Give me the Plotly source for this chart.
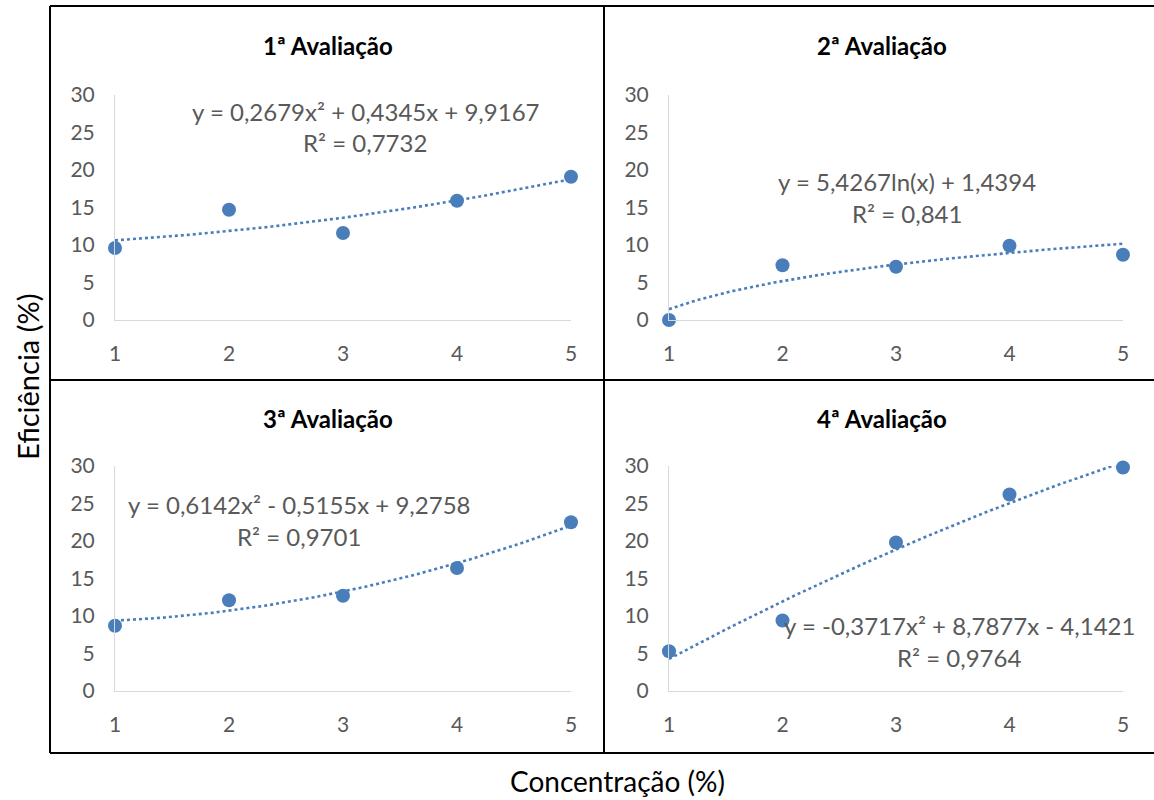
import numpy as np
import plotly.graph_objects as go

W, H = 1154, 800

concentracao = [1, 2, 3, 4, 5]
aval1 = [9.6, 14.7, 11.6, 15.9, 19.1]
aval2 = [0.0, 7.3, 7.1, 9.9, 8.7]
aval3 = [8.7, 12.1, 12.7, 16.4, 22.5]
aval4 = [5.3, 9.4, 19.8, 26.2, 29.8]

titles = ["1ª Avaliação", "2ª Avaliação", "3ª Avaliação", "4ª Avaliação"]
# trendline coefficients as printed in the chart
coef1 = [0.2679, 0.4345, 9.9167]      # quadratic
coef2 = [5.4267, 1.4394]              # logarithmic a*ln(x)+b
coef3 = [0.6142, -0.5155, 9.2758]     # quadratic
coef4 = [-0.3717, 8.7877, -4.1421]    # quadratic
eqs = ["y = 0,2679x² + 0,4345x + 9,9167", "y = 5,4267ln(x) + 1,4394",
       "y = 0,6142x² - 0,5155x + 9,2758", "y = -0,3717x² + 8,7877x - 4,1421"]
r2s = ["R² = 0,7732", "R² = 0,841", "R² = 0,9701", "R² = 0,9764"]

y_ticks = [0, 5, 10, 15, 20, 25, 30]
x_ticks = [1, 2, 3, 4, 5]

FONT = "Lato"
BLUE = "#4a7ebb"

def px(x):
    return x / W

def py(y):
    return 1 - y / H

# panel plot areas in pixel coords (x0, x1, ytop, ybottom)
areas = [(115, 571, 95, 320), (669, 1123, 95, 320),
         (115, 571, 466, 691), (669, 1123, 466, 691)]
title_pos = [(328, 45), (882, 45), (328, 418), (882, 418)]
eq_pos = [(365, 111, 143), (907, 181, 213), (299, 504, 536), (959, 625, 657)]

series = [aval1, aval2, aval3, aval4]
xs = np.linspace(1, 5, 120)
trends = [np.polyval(coef1, xs), coef2[0] * np.log(xs) + coef2[1],
          np.polyval(coef3, xs), np.polyval(coef4, xs)]

fig = go.Figure()
annotations = []
for i in range(4):
    sfx = "" if i == 0 else str(i + 1)
    xa, ya = "x" + sfx, "y" + sfx
    fig.add_trace(go.Scatter(x=xs, y=trends[i], mode="lines", xaxis=xa, yaxis=ya,
                             line=dict(color=BLUE, width=2.6, dash="dot"),
                             showlegend=False, cliponaxis=False, hoverinfo="skip"))
    fig.add_trace(go.Scatter(x=concentracao, y=series[i], mode="markers", xaxis=xa, yaxis=ya,
                             marker=dict(color=BLUE, size=14), showlegend=False,
                             cliponaxis=False))
    x0, x1, yt, yb = areas[i]
    fig.layout["xaxis" + sfx] = dict(domain=[px(x0), px(x1)], range=[1, 5], anchor=ya,
                                     tickvals=x_ticks, showgrid=False, zeroline=False,
                                     showline=True, linecolor="#d9d9d9", linewidth=1,
                                     ticks="", ticklabelstandoff=15, automargin=False,
                                     tickfont=dict(family=FONT, size=21, color="#595959"),
                                     fixedrange=True)
    fig.layout["yaxis" + sfx] = dict(domain=[py(yb), py(yt)], range=[0, 30], anchor=xa,
                                     tickvals=y_ticks, showgrid=False, zeroline=False,
                                     showline=True, linecolor="#d9d9d9", linewidth=1,
                                     ticks="", ticklabelstandoff=15, automargin=False,
                                     tickfont=dict(family=FONT, size=21, color="#595959"),
                                     fixedrange=True)
    tx, ty = title_pos[i]
    annotations.append(dict(text="<b>" + titles[i] + "</b>", x=px(tx), y=py(ty),
                            xref="paper", yref="paper", showarrow=False,
                            xanchor="center", yanchor="middle",
                            font=dict(family=FONT, size=24, color="#000000")))
    ex, ey1, ey2 = eq_pos[i]
    annotations.append(dict(text=eqs[i], x=px(ex), y=py(ey1), xref="paper", yref="paper",
                            showarrow=False, xanchor="center", yanchor="middle",
                            font=dict(family=FONT, size=24, color="#595959")))
    annotations.append(dict(text=r2s[i], x=px(ex), y=py(ey2), xref="paper", yref="paper",
                            showarrow=False, xanchor="center", yanchor="middle",
                            font=dict(family=FONT, size=24, color="#595959")))

annotations.append(dict(text="Eficiência (%)", x=px(28), y=py(377), xref="paper", yref="paper",
                        showarrow=False, textangle=-90, xanchor="center", yanchor="middle",
                        font=dict(family=FONT, size=29, color="#000000")))
annotations.append(dict(text="Concentração (%)", x=px(617), y=py(781), xref="paper", yref="paper",
                        showarrow=False, xanchor="center", yanchor="middle",
                        font=dict(family=FONT, size=28, color="#000000")))

line = dict(color="#000000", width=2)
shapes = [
    dict(type="line", xref="paper", yref="paper", x0=px(50), x1=1, y0=py(6), y1=py(6), line=line),
    dict(type="line", xref="paper", yref="paper", x0=px(50), x1=1, y0=py(753), y1=py(753), line=line),
    dict(type="line", xref="paper", yref="paper", x0=px(50), x1=px(50), y0=py(6), y1=py(753), line=line),
    dict(type="line", xref="paper", yref="paper", x0=px(604), x1=px(604), y0=py(6), y1=py(753), line=line),
    dict(type="line", xref="paper", yref="paper", x0=px(50), x1=1, y0=py(380), y1=py(380), line=line),
]

fig.update_layout(width=W, height=H, margin=dict(l=0, r=0, t=0, b=0, autoexpand=False),
                  template="none",
                  paper_bgcolor="white", plot_bgcolor="white",
                  annotations=annotations, shapes=shapes,
                  font=dict(family=FONT))
fig.write_html("out.html", config={"displayModeBar": False},
               post_script="document.body.style.margin='0';document.body.style.overflow='hidden';")
